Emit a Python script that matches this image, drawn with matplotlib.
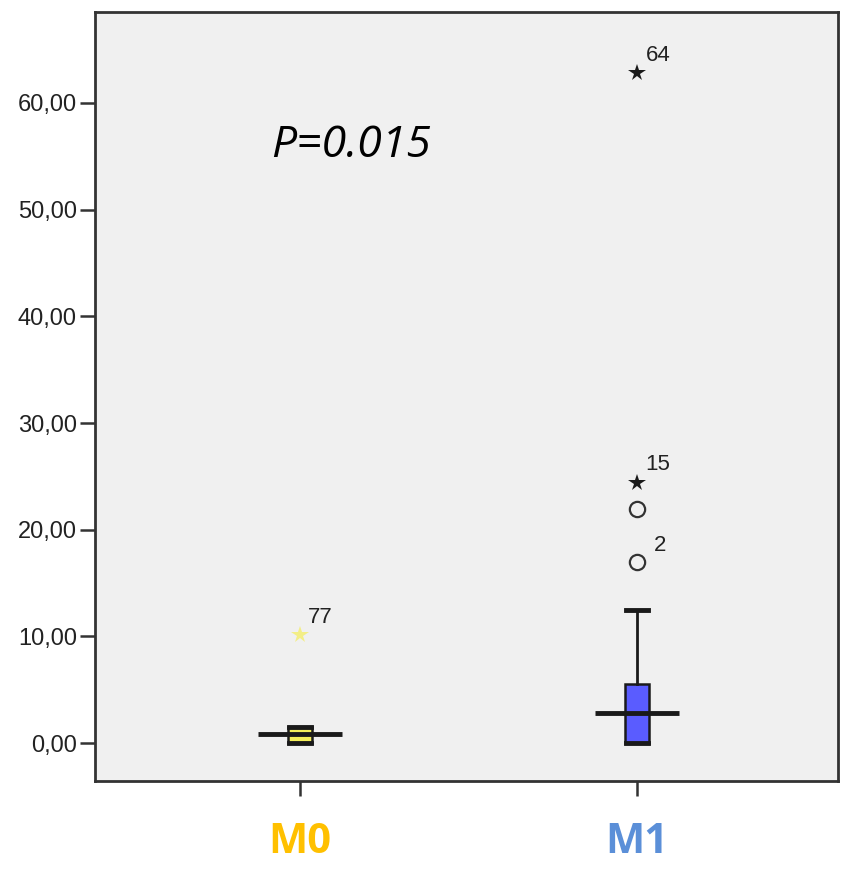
import matplotlib.pyplot as plt

# data
groups = ["M0", "M1"]
q1 = [0.0, 0.0]
medians = [0.8, 2.8]
q3 = [1.5, 5.5]
whisker_lo = [0.0, 0.0]
whisker_hi = [1.5, 12.5]
# outliers (circles) and extremes (stars), with case labels
outlier_vals = [[], [17.0, 21.9]]
outlier_ids = [[], ["2", ""]]
extreme_vals = [[10.1], [24.4, 62.8]]
extreme_ids = [["77"], ["15", "64"]]
yticks = [0, 10, 20, 30, 40, 50, 60]

box_colors = ["#f4ef5a", "#5a5cff"]
star_colors = ["#f3ee86", "#1a1a1a"]
label_colors = ["#ffc000", "#5b8fd8"]

fig = plt.figure(figsize=(8.46, 8.73), dpi=100)
ax = fig.add_axes([95 / 846, 1 - 781 / 873, 743 / 846, 769 / 873])
ax.set_facecolor("#f0f0f0")

stats = []
for i, g in enumerate(groups):
    stats.append(dict(label=g, q1=q1[i], med=medians[i], q3=q3[i],
                      whislo=whisker_lo[i], whishi=whisker_hi[i], fliers=[]))

bp = ax.bxp(stats, positions=[0, 1], widths=0.07, patch_artist=True,
            showfliers=False, capwidths=0.065,
            boxprops=dict(edgecolor="#1a1a1a", linewidth=1.8),
            whiskerprops=dict(color="#1a1a1a", linewidth=2),
            capprops=dict(color="#1a1a1a", linewidth=3.5),
            medianprops=dict(color="#1a1a1a", linewidth=3.5))
for patch, c in zip(bp["boxes"], box_colors):
    patch.set_facecolor(c)
# long median bars like SPSS draws them
for i, m in enumerate(bp["medians"]):
    m.set_xdata([i - 0.125, i + 0.125])

for i in range(len(groups)):
    for v, lab in zip(outlier_vals[i], outlier_ids[i]):
        ax.plot(i, v, marker="o", markersize=11, markerfacecolor="none",
                markeredgecolor="#333333", markeredgewidth=1.6)
        if lab:
            ax.annotate(lab, (i, v), xytext=(12, 8), textcoords="offset points",
                        fontsize=16, family="Liberation Sans", color="#222222")
    for v, lab in zip(extreme_vals[i], extreme_ids[i]):
        ax.plot(i, v, marker="*", markersize=13, color=star_colors[i],
                markeredgewidth=0)
        ax.annotate(lab, (i, v), xytext=(6, 9), textcoords="offset points",
                    fontsize=16, family="Liberation Sans", color="#222222")

ax.set_xlim(-0.608, 1.596)
ax.set_ylim(-3.56, 68.53)
ax.set_yticks(yticks)
ax.set_yticklabels([f"{t:.2f}".replace(".", ",") for t in yticks],
                   fontsize=17, family="Liberation Sans", color="#222222")
ax.set_xticks([0, 1])
ax.set_xticklabels([])
ax.tick_params(length=11, width=1.8, color="#333333", direction="out", pad=2)
for s in ax.spines.values():
    s.set_color("#333333")
    s.set_linewidth(2)

for i, g in enumerate(groups):
    ax.text(i, -7.4, g, ha="center", va="top", fontsize=30, fontweight="bold",
            color=label_colors[i], family="Open Sans", clip_on=False)

ax.text(0.15, 56, "P=0.015", ha="center", va="center", fontsize=32,
        style="italic", family="Open Sans")

fig.savefig("out.png", dpi=100)
